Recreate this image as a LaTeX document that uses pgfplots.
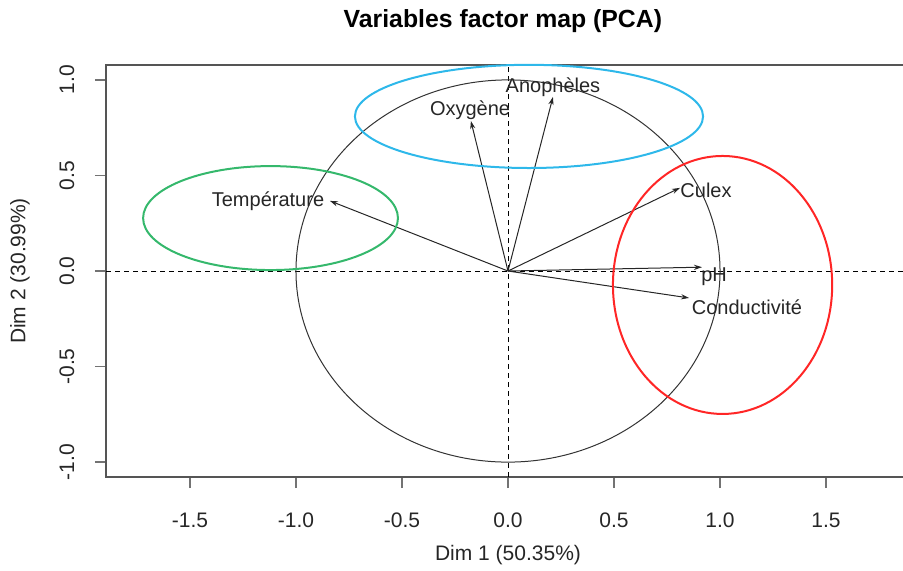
\documentclass[border=0pt]{standalone}
\usepackage{fontspec}
\setmainfont{Liberation Sans}
\usepackage{pgfplots}
\pgfplotsset{compat=1.18}
\usetikzlibrary{calc,arrows.meta}
\definecolor{cgreen}{HTML}{35B86C}
\definecolor{cblue}{HTML}{2EB8EA}
\definecolor{cred}{HTML}{FF2626}
\definecolor{caxis}{HTML}{555555}

\begin{document}
\begin{tikzpicture}
\begin{axis}[
  name=ax,
  scale only axis, width=398.5pt, height=206pt,
  xmin=-1.896, xmax=1.863, ymin=-1.078, ymax=1.078,
  xtick={-1.5,-1,-0.5,0,0.5,1,1.5},
  xticklabels={-1.5,-1.0,-0.5,0.0,0.5,1.0,1.5},
  ytick={-1,-0.5,0,0.5,1},
  yticklabels={-1.0,-0.5,0.0,0.5,1.0},
  xtick pos=bottom, ytick pos=left, tick align=outside,
  major tick length=5.5pt,
  every tick/.style={draw=black!55, line width=0.8pt},
  axis line style={draw=none},
  ticklabel style={font=\fontsize{10.5}{12}\selectfont, text=black!85},
  xticklabel style={anchor=center, yshift=-16pt},
  yticklabel style={anchor=center, xshift=-14pt, rotate=90},
  clip=false,
  arr/.style={black!85, line width=0.5pt, -{Stealth[length=4pt,width=2.6pt]}},
]
% box (right side cropped in the reference)
\draw[caxis, line width=0.8pt] (rel axis cs:1,1) -- (rel axis cs:0,1) -- (rel axis cs:0,0) -- (rel axis cs:1,0);

% reference lines
\addplot[black, line width=0.5pt, dash pattern=on 2.5pt off 2pt] coordinates {(-1.896,0) (1.863,0)};
\addplot[black, line width=0.5pt, dash pattern=on 2.5pt off 2pt] coordinates {(0,-1.078) (0,1.078)};

% correlation circle
\draw[black!80, line width=0.5pt] (axis cs:0,0) ellipse [x radius=1, y radius=1];

% variable arrows
\addplot[arr] coordinates {(0,0) (0.212,0.911)};
\addplot[arr] coordinates {(0,0) (-0.175,0.785)};
\addplot[arr] coordinates {(0,0) (0.811,0.435)};
\addplot[arr] coordinates {(0,0) (0.915,0.020)};
\addplot[arr] coordinates {(0,0) (0.854,-0.141)};
\addplot[arr] coordinates {(0,0) (-0.840,0.367)};

\begin{scope}[every node/.style={font=\fontsize{10}{12}\selectfont, text=black!85, inner sep=0pt}]
\node at (axis cs:0.212,0.963) {Anophèles};
\node at (axis cs:-0.179,0.843) {Oxygène};
\node at (axis cs:0.934,0.424) {Culex};
\node at (axis cs:0.972,-0.031) {pH};
\node at (axis cs:1.127,-0.188) {Conductivité};
\node at (axis cs:-1.132,0.366) {Température};
\end{scope}

% highlighted groups
\draw[cgreen, line width=1pt] (axis cs:-1.120,0.277) ellipse [x radius=0.601, y radius=0.272];
\draw[cblue, line width=1pt] (axis cs:0.099,0.809) ellipse [x radius=0.821, y radius=0.270];
\draw[cred, line width=1pt] (axis cs:1.012,-0.073) ellipse [x radius=0.517, y radius=0.675];

\coordinate (sw) at (rel axis cs:0,0);
\coordinate (ne) at (rel axis cs:1,1);
\coordinate (tt) at (rel axis cs:0.498,1);
\coordinate (xl) at (rel axis cs:0.5044,0);
\coordinate (yl) at (rel axis cs:0,0.5);
\end{axis}

% titles
\node[font=\bfseries\fontsize{12.4}{14}\selectfont, inner sep=0pt, yshift=22pt] at (tt) {Variables factor map (PCA)};
\node[font=\fontsize{10.5}{12}\selectfont, text=black!85, inner sep=0pt, yshift=-39pt] at (xl) {Dim 1 (50.35\%)};
\node[font=\fontsize{10.5}{12}\selectfont, text=black!85, inner sep=0pt, xshift=-43pt, rotate=90] at (yl) {Dim 2 (30.99\%)};

\pgfresetboundingbox
\path[use as bounding box] ($(sw)+(-53pt,-46.5pt)$) rectangle ($(ne)+(0pt,32.5pt)$);
\end{tikzpicture}
\end{document}
